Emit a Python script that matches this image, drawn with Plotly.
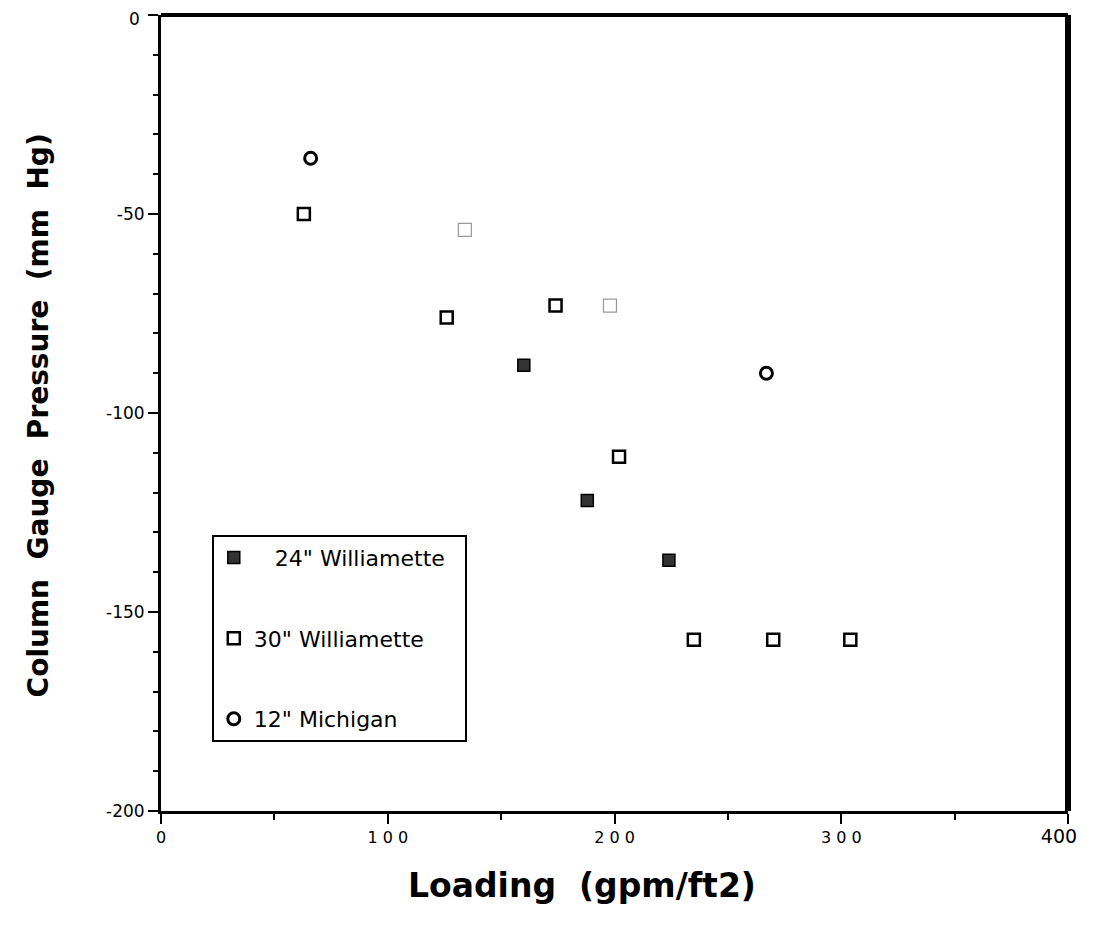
import plotly.graph_objects as go

# 24" Williamette (filled squares)
w24_x = [160, 188, 224]
w24_y = [-88, -122, -137]
# 30" Williamette (open squares)
w30_x = [63, 126, 174, 202, 235, 270, 304]
w30_y = [-50, -76, -73, -111, -157, -157, -157]
# faint grey marks (scan artefacts)
grey_x = [134, 198]
grey_y = [-54, -73]
# 12" Michigan (open circles)
m12_x = [66, 267]
m12_y = [-36, -90]

x_ticks = [0, 100, 200, 300, 400]
x_ticktext = ["0", "1 0 0", "2 0 0", "3 0 0",
              "<span style='font-size:19px'>400&nbsp;&nbsp;&nbsp;</span>"]
y_ticks = [0, -50, -100, -150, -200]
y_ticktext = ["", "-50", "-100", "-150", "-200"]
y_top_label = "0"

FONT = "DejaVu Sans, Verdana, sans-serif"

fig = go.Figure()
fig.add_trace(go.Scatter(
    x=w24_x, y=w24_y, mode="markers", name='&nbsp;&nbsp;&nbsp;24" Williamette&nbsp;&nbsp;',
    legendgroup="a",
    marker=dict(symbol="square", size=12, color="#333333",
                line=dict(color="black", width=1.5))))
fig.add_trace(go.Scatter(
    x=w30_x, y=w30_y, mode="markers", name='30" Williamette',
    legendgroup="b",
    marker=dict(symbol="square-open", size=12, color="black",
                line=dict(width=2.5))))
fig.add_trace(go.Scatter(
    x=m12_x, y=m12_y, mode="markers", name='12" Michigan',
    legendgroup="c",
    marker=dict(symbol="circle-open", size=12, color="black",
                line=dict(width=3))))
fig.add_trace(go.Scatter(
    x=grey_x, y=grey_y, mode="markers", showlegend=False,
    marker=dict(symbol="square-open", size=13, color="#999999",
                line=dict(width=1.2))))

fig.update_layout(
    width=1099, height=942,
    paper_bgcolor="white", plot_bgcolor="white",
    margin=dict(l=153, r=39, t=7, b=139, autoexpand=False),
    font=dict(family=FONT, size=17, color="black"),
    showlegend=True,
    legend=dict(x=0.056, y=0.347, xanchor="left", yanchor="top",
                bordercolor="black", borderwidth=2, bgcolor="white",
                font=dict(size=22, family=FONT),
                tracegroupgap=49, traceorder="grouped",
                itemwidth=30),
    xaxis=dict(range=[0, 400], tickvals=x_ticks, ticktext=x_ticktext,
               showgrid=False, zeroline=False, showline=True,
               linecolor="black", linewidth=3, automargin=False,
               ticks="outside", ticklen=10, tickwidth=2, tickcolor="black",
               minor=dict(dtick=50, ticks="outside", ticklen=6,
                          tickwidth=2, tickcolor="black"),
               ticklabeloverflow="allow",
               tickfont=dict(size=16)),
    yaxis=dict(range=[-200, 0], tickvals=y_ticks, ticktext=y_ticktext,
               showgrid=False, zeroline=False, showline=True,
               linecolor="black", linewidth=3, automargin=False,
               ticks="outside", ticklen=10, tickwidth=2, tickcolor="black",
               minor=dict(dtick=10, ticks="outside", ticklen=5,
                          tickwidth=2, tickcolor="black"),
               ticklabeloverflow="allow",
               tickfont=dict(size=17)),
)

# top "0" label of the y axis, nudged down so it stays inside the page
fig.add_annotation(xref="paper", yref="y", x=0, y=0,
                   xanchor="right", yanchor="middle", xshift=-19, yshift=-4,
                   showarrow=False, text=y_top_label,
                   font=dict(size=17, family=FONT))

# axis titles
fig.add_annotation(xref="paper", yref="paper", x=0, y=0.497,
                   xanchor="center", yanchor="middle", xshift=-123,
                   textangle=-90, showarrow=False,
                   text="<b>Column&nbsp; Gauge&nbsp; Pressure&nbsp; (mm&nbsp; Hg)</b>",
                   font=dict(size=28, family=FONT))
fig.add_annotation(xref="paper", yref="paper", x=0.464, y=0,
                   xanchor="center", yanchor="middle", yshift=-74,
                   showarrow=False,
                   text="<b>Loading&nbsp; (gpm/ft2)</b>",
                   font=dict(size=33, family=FONT))

# thick top and right frame
fig.add_shape(type="line", xref="paper", yref="paper", x0=0, x1=1, y0=1, y1=1,
              line=dict(color="black", width=4))
fig.add_shape(type="line", xref="paper", yref="paper", x0=1, x1=1, y0=0, y1=1,
              line=dict(color="black", width=6))

fig.write_html("out.html")
